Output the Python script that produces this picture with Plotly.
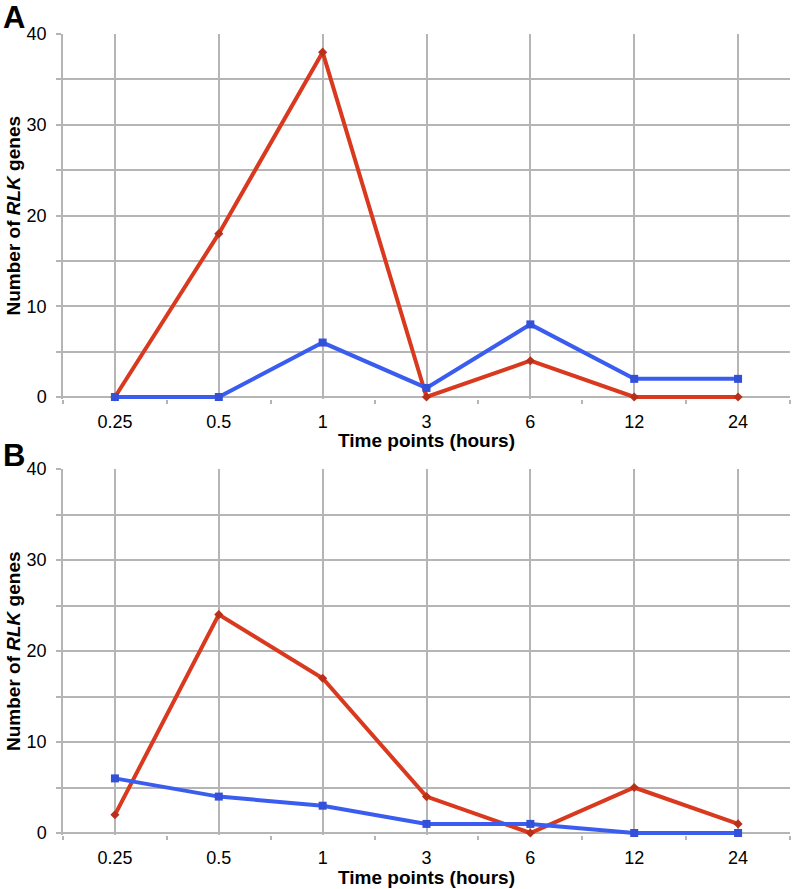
import plotly.graph_objects as go

time_points = ["0.25", "0.5", "1", "3", "6", "12", "24"]
a_red = [0, 18, 38, 0, 4, 0, 0]
a_blue = [0, 0, 6, 1, 8, 2, 2]
b_red = [2, 24, 17, 4, 0, 5, 1]
b_blue = [6, 4, 3, 1, 1, 0, 0]
y_ticks = [0, 10, 20, 30, 40]

W, H = 797, 889
RED = "#d93a1f"
BLUE = "#3a5cef"
GRID = "#b5b5b5"
FONT = "Liberation Sans, Arial, sans-serif"
Y_LO = -0.25

fig = go.Figure()

panels = [
    dict(x="x", y="y", xt="x3", red=a_red, blue=a_blue),
    dict(x="x2", y="y2", xt="x4", red=b_red, blue=b_blue),
]

for p in panels:
    fig.add_trace(go.Scatter(x=time_points, y=p["red"], xaxis=p["x"], yaxis=p["y"],
                             mode="lines+markers",
                             line=dict(color=RED, width=4),
                             marker=dict(symbol="diamond", size=7, color="#b8301a"),
                             showlegend=False, cliponaxis=False))
    fig.add_trace(go.Scatter(x=time_points, y=p["blue"], xaxis=p["x"], yaxis=p["y"],
                             mode="lines+markers",
                             line=dict(color=BLUE, width=4),
                             marker=dict(symbol="square", size=8, color="#3350d8"),
                             showlegend=False, cliponaxis=False))
    # empty trace so the overlay tick axis knows its categories
    fig.add_trace(go.Scatter(x=time_points, y=[None] * len(time_points),
                             xaxis=p["xt"], yaxis=p["y"], mode="lines",
                             hoverinfo="skip", showlegend=False))

x0d, x1d = 63 / W, 790 / W

def ydomain(top, bot):
    scale = (bot - top) / 40.0
    return [1 - (bot - Y_LO * scale) / H, 1 - top / H]

dom_a = ydomain(34, 397)
dom_b = ydomain(469, 833)

def xaxis(dom):
    return dict(
        domain=[x0d, x1d], anchor="free", position=dom[0] - 8 / H, type="category",
        categoryorder="array", categoryarray=time_points,
        range=[-0.5, 6.5], tickson="labels", ticks="",
        showgrid=True, gridcolor=GRID, gridwidth=1.5,
        showline=False, zeroline=False, automargin=False,
        ticklabelstandoff=2,
        tickfont=dict(family=FONT, size=18, color="black"),
        fixedrange=True,
    )

def xaxis_ticks(anchor, overlay):
    return dict(
        domain=[x0d, x1d], anchor=anchor, overlaying=overlay, type="category",
        categoryorder="array", categoryarray=time_points,
        range=[-0.5, 6.5], tickson="boundaries", ticks="outside", ticklen=4,
        tickcolor=GRID, tickwidth=1.5, showgrid=False, showticklabels=False,
        showline=False, zeroline=False, automargin=False, fixedrange=True,
    )

def yaxis(anchor, dom):
    return dict(
        domain=dom, anchor=anchor,
        range=[Y_LO, 40], tickvals=y_ticks, ticks="outside", ticklen=5,
        tickcolor=GRID, tickwidth=1.5,
        showgrid=True, gridcolor=GRID, gridwidth=1.5,
        minor=dict(dtick=5, tick0=0, showgrid=True, gridcolor=GRID, gridwidth=1.5,
                   ticks="outside", ticklen=5, tickcolor=GRID, tickwidth=1.5),
        showline=True, linecolor=GRID, linewidth=1.5, zeroline=False, automargin=False,
        ticklabelstandoff=6,
        tickfont=dict(family=FONT, size=18, color="black"),
        fixedrange=True,
    )

fig.update_layout(
    width=W, height=H, margin=dict(l=0, r=0, t=0, b=0, autoexpand=False),
    paper_bgcolor="white", plot_bgcolor="white",
    xaxis=xaxis(dom_a), yaxis=yaxis("x", dom_a),
    xaxis2=xaxis(dom_b), yaxis2=yaxis("x2", dom_b),
    xaxis3=xaxis_ticks("y", "x"), xaxis4=xaxis_ticks("y2", "x2"),
)

title_font = dict(family=FONT, size=19, color="black")
for xt_y, yt_y in [(440, 215.5), (877, 651)]:
    fig.add_annotation(text="<b>Time points (hours)</b>", xref="paper", yref="paper",
                       x=(63 + 790) / 2 / W, y=1 - xt_y / H, xanchor="center", yanchor="middle",
                       showarrow=False, font=title_font)
    fig.add_annotation(text="<b>Number of <i>RLK</i> genes</b>", xref="paper", yref="paper",
                       x=13 / W, y=1 - yt_y / H, xanchor="center", yanchor="middle",
                       textangle=-90, showarrow=False, font=title_font)

fig.add_annotation(text="<b>A</b>", xref="paper", yref="paper", x=1 / W, y=1, yshift=2,
                   xanchor="left", yanchor="top", showarrow=False,
                   font=dict(family=FONT, size=31, color="black"))
fig.add_annotation(text="<b>B</b>", xref="paper", yref="paper", x=1 / W, y=1 - 436 / H,
                   xanchor="left", yanchor="top", showarrow=False,
                   font=dict(family=FONT, size=31, color="black"))

fig.write_html("out.html", config={"displayModeBar": False},
               post_script="document.body.style.margin='0px';")
